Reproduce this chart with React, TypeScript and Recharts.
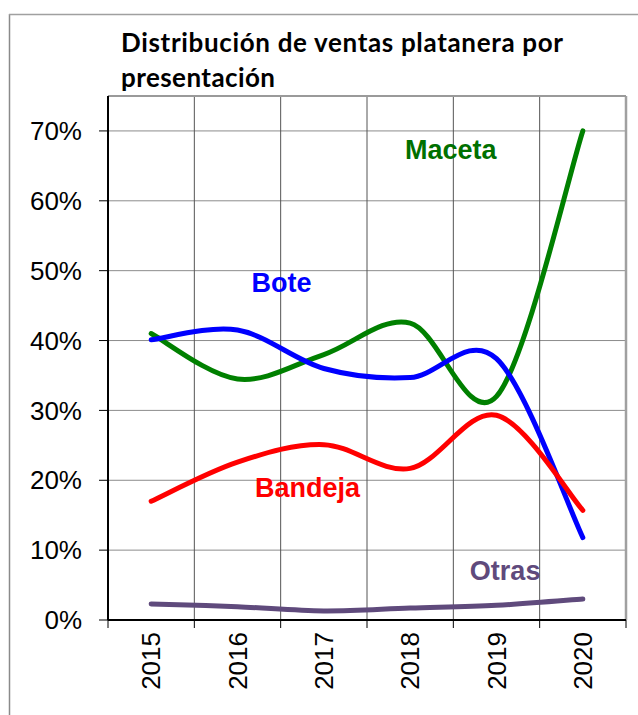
import React from "react";
import { LineChart, Line, XAxis, YAxis, CartesianGrid, ReferenceLine, ReferenceDot } from "recharts";

const years = ["2015", "2016", "2017", "2018", "2019", "2020"];
const maceta = [41, 34.5, 38, 42.5, 32, 70];
const bote = [40.1, 41.5, 36, 34.7, 37.4, 11.8];
const bandeja = [17, 22.6, 25.1, 21.7, 29.3, 15.7];
const otras = [2.3, 1.9, 1.3, 1.7, 2.1, 3.0];
const yTicks = [0, 10, 20, 30, 40, 50, 60, 70];
const title = ["Distribución de ventas platanera por", "presentación"];

const seriesLabels = [
  { text: "Maceta", x: 3.97, y: 66.0, color: "#007000" },
  { text: "Bote", x: 2.01, y: 47.0, color: "#0000FF" },
  { text: "Bandeja", x: 2.31, y: 17.6, color: "#FF0000" },
  { text: "Otras", x: 4.6, y: 5.7, color: "#5F4A7C" },
];

const data = years.map((yr, i) => ({
  x: i + 0.5,
  year: yr,
  maceta: maceta[i],
  bote: bote[i],
  bandeja: bandeja[i],
  otras: otras[i],
}));

const xTicks: number[] = [];
for (let i = 0; i <= 12; i++) xTicks.push(i / 2);

// Excel-like smoothed curve (Catmull-Rom through points)
const excelSmooth: any = (context: any) => {
  let pts: [number, number][] = [];
  return {
    areaStart() {},
    areaEnd() {},
    lineStart() {
      pts = [];
    },
    point(x: number, y: number) {
      pts.push([+x, +y]);
    },
    lineEnd() {
      const n = pts.length;
      if (n === 0) return;
      context.moveTo(pts[0][0], pts[0][1]);
      if (n === 1) return;
      for (let i = 0; i < n - 1; i++) {
        const p0 = pts[i - 1] || pts[i];
        const p1 = pts[i];
        const p2 = pts[i + 1];
        const p3 = pts[i + 2] || pts[i + 1];
        const c1x = p1[0] + (p2[0] - p0[0]) / 6;
        const c1y = p1[1] + (p2[1] - p0[1]) / 6;
        const c2x = p2[0] - (p3[0] - p1[0]) / 6;
        const c2y = p2[1] - (p3[1] - p1[1]) / 6;
        context.bezierCurveTo(c1x, c1y, c2x, c2y, p2[0], p2[1]);
      }
    },
  };
};

const XTick = (props: any) => {
  const { x, y, payload } = props;
  const v = payload.value as number;
  if (Math.abs(v - Math.round(v)) < 1e-6) {
    return <line x1={x} x2={x} y1={y - 8} y2={y} stroke="#000" strokeWidth={1} />;
  }
  const label = years[Math.floor(v)];
  return (
    <text
      x={x}
      y={y + 4}
      dy="0.35em"
      transform={`rotate(-90 ${x} ${y + 4})`}
      textAnchor="end"
      fontFamily="'Liberation Sans', Arial, sans-serif"
      fontSize={26}
      fill="#000"
    >
      {label}
    </text>
  );
};

const labelShape = (text: string, color: string) => (p: any) => (
  <text
    x={p.cx}
    y={p.cy}
    textAnchor="middle"
    fontFamily="'Liberation Sans', Arial, sans-serif"
    fontWeight="bold"
    fontSize={27}
    fill={color}
  >
    {text}
  </text>
);

export default function App() {
  return (
    <div style={{ position: "absolute", left: 0, top: 0, width: 638, height: 715, background: "#fff" }}>
      <LineChart
        width={638}
        height={715}
        data={data}
        margin={{ top: 96, right: 12, bottom: 0, left: 8 }}
      >
        <CartesianGrid vertical={false} stroke="#8c8c8c" strokeWidth={1} />
        {[1, 2, 3, 4, 5].map((v) => (
          <ReferenceLine key={v} x={v} stroke="#555" strokeWidth={1} />
        ))}
        <ReferenceLine x={6} stroke="#a0a0a0" strokeWidth={2.5} />
        <ReferenceLine y={75} stroke="#9a9a9a" strokeWidth={2} />
        <XAxis
          dataKey="x"
          type="number"
          domain={[0, 6]}
          ticks={xTicks}
          interval={0}
          height={95}
          tickSize={8}
          tickMargin={0}
          tickLine={false}
          axisLine={{ stroke: "#000", strokeWidth: 2 }}
          tick={<XTick />}
        />
        <YAxis
          type="number"
          domain={[0, 75]}
          ticks={yTicks}
          interval={0}
          width={100}
          tickSize={9}
          tickMargin={17}
          tickFormatter={(v: number) => `${v}%`}
          tick={{ fill: "#000", fontSize: 26, fontFamily: "'Liberation Sans', Arial, sans-serif" }}
          tickLine={{ stroke: "#000", strokeWidth: 1 }}
          axisLine={{ stroke: "#000", strokeWidth: 2 }}
        />
        <Line dataKey="maceta" type={excelSmooth} stroke="#008000" strokeWidth={5} dot={false} strokeLinecap="round" isAnimationActive={false} />
        <Line dataKey="bote" type={excelSmooth} stroke="#0000FF" strokeWidth={5} dot={false} strokeLinecap="round" isAnimationActive={false} />
        <Line dataKey="bandeja" type={excelSmooth} stroke="#FF0000" strokeWidth={5} dot={false} strokeLinecap="round" isAnimationActive={false} />
        <Line dataKey="otras" type={excelSmooth} stroke="#5F4A7C" strokeWidth={5} dot={false} strokeLinecap="round" isAnimationActive={false} />
        {seriesLabels.map((l) => (
          <ReferenceDot key={l.text} x={l.x} y={l.y} r={0} shape={labelShape(l.text, l.color)} />
        ))}
      </LineChart>
      <svg
        width={638}
        height={715}
        style={{ position: "absolute", left: 0, top: 0, pointerEvents: "none" }}
      >
        <line x1={9.5} y1={14} x2={9.5} y2={715} stroke="#8a8a8a" strokeWidth={1.5} />
        <line x1={9} y1={14.5} x2={638} y2={14.5} stroke="#a0a0a0" strokeWidth={1.5} />
        <text fontFamily="Lato, 'Open Sans', sans-serif" fontWeight="bold" fontSize={26} fill="#000">
          <tspan x={121} y={52} textLength={442} lengthAdjust="spacing">{title[0]}</tspan>
          <tspan x={121} y={87} textLength={154} lengthAdjust="spacing">{title[1]}</tspan>
        </text>
      </svg>
    </div>
  );
}
